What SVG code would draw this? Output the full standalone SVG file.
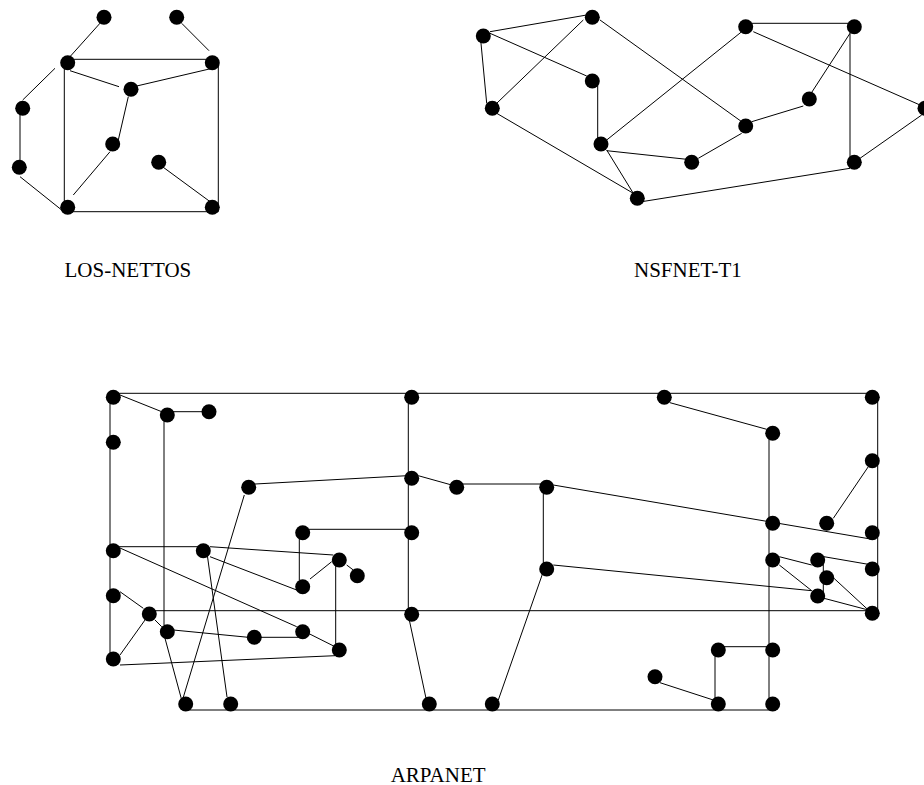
<svg xmlns="http://www.w3.org/2000/svg" width="924" height="785" viewBox="0 0 924 785">
<style>
.e{stroke:#000;stroke-width:1;fill:none}
.n{fill:#000}
.t{font-family:"Liberation Serif","Times New Roman",serif;font-size:21px;fill:#000}
</style>
<rect width="924" height="785" fill="#fff"/>
<g id="connectors">
<!-- LOS-NETTOS -->
<line class="e" x1="102" y1="21" x2="67" y2="60"/>
<line class="e" x1="181.7" y1="23.3" x2="209" y2="50.7"/>
<line class="e" x1="67.7" y1="59.3" x2="212.3" y2="59.3"/>
<line class="e" x1="70" y1="70.7" x2="119" y2="86.7"/>
<line class="e" x1="136.7" y1="86" x2="212.3" y2="68.3"/>
<line class="e" x1="64.3" y1="62.7" x2="64.3" y2="207"/>
<line class="e" x1="218.3" y1="62.7" x2="218.3" y2="211.7"/>
<line class="e" x1="64.3" y1="211.7" x2="218.3" y2="211.7"/>
<line class="e" x1="20" y1="108" x2="20" y2="167"/>
<line class="e" x1="22.7" y1="100" x2="55" y2="68.3"/>
<line class="e" x1="20" y1="176.7" x2="61.7" y2="210"/>
<line class="e" x1="128.3" y1="96.7" x2="118.3" y2="140"/>
<line class="e" x1="110" y1="151.7" x2="73.3" y2="195"/>
<line class="e" x1="163.3" y1="167.3" x2="212.3" y2="203.3"/>
<!-- NSFNET-T1 -->
<line class="e" x1="490" y1="31.7" x2="586.7" y2="15"/>
<line class="e" x1="490" y1="33.3" x2="586.7" y2="76"/>
<line class="e" x1="480.7" y1="40" x2="486.7" y2="103.3"/>
<line class="e" x1="496.7" y1="103.3" x2="583.3" y2="20"/>
<line class="e" x1="600" y1="20" x2="741.7" y2="121.7"/>
<line class="e" x1="496.7" y1="113.3" x2="633.3" y2="193.3"/>
<line class="e" x1="597.7" y1="81" x2="597.7" y2="144"/>
<line class="e" x1="606.7" y1="140" x2="741.7" y2="31.7"/>
<line class="e" x1="745.7" y1="23.3" x2="854.3" y2="23.3"/>
<line class="e" x1="753.3" y1="31.7" x2="920" y2="105"/>
<line class="e" x1="850" y1="33.3" x2="810" y2="95"/>
<line class="e" x1="850" y1="26.7" x2="850" y2="162.3"/>
<line class="e" x1="921.7" y1="115" x2="860" y2="158.3"/>
<line class="e" x1="751.7" y1="121.7" x2="803.3" y2="106"/>
<line class="e" x1="606.7" y1="150.7" x2="686.7" y2="159.3"/>
<line class="e" x1="698.3" y1="158.3" x2="741.7" y2="133.3"/>
<line class="e" x1="606.7" y1="150" x2="633.3" y2="193.3"/>
<line class="e" x1="641.7" y1="201.7" x2="850" y2="168.3"/>
<!-- ARPANET -->
<line class="e" x1="113" y1="393.3" x2="877.7" y2="393.3"/>
<line class="e" x1="877.7" y1="393.3" x2="877.7" y2="613"/>
<line class="e" x1="110" y1="397" x2="110" y2="659"/>
<line class="e" x1="120" y1="395" x2="161.7" y2="411.7"/>
<line class="e" x1="167" y1="411.7" x2="209" y2="411.7"/>
<line class="e" x1="164" y1="415" x2="164" y2="625"/>
<line class="e" x1="255" y1="484" x2="407" y2="475.7"/>
<line class="e" x1="244.3" y1="495" x2="183" y2="698.3"/>
<line class="e" x1="302.7" y1="529.3" x2="411.7" y2="529.3"/>
<line class="e" x1="299.3" y1="532.7" x2="299.3" y2="580"/>
<line class="e" x1="310" y1="579" x2="331.7" y2="561.7"/>
<line class="e" x1="346.7" y1="565" x2="353.3" y2="570"/>
<line class="e" x1="335.7" y1="560" x2="335.7" y2="645"/>
<line class="e" x1="113" y1="546.7" x2="203" y2="546.7"/>
<line class="e" x1="210" y1="546.7" x2="333.3" y2="555"/>
<line class="e" x1="120" y1="548" x2="296.7" y2="626.7"/>
<line class="e" x1="210" y1="556.7" x2="296.7" y2="590"/>
<line class="e" x1="207" y1="553" x2="227" y2="697"/>
<line class="e" x1="120" y1="591.7" x2="143.3" y2="608.3"/>
<line class="e" x1="149" y1="610.7" x2="877.7" y2="610.7"/>
<line class="e" x1="145" y1="620" x2="120" y2="655"/>
<line class="e" x1="155" y1="620" x2="161.7" y2="626.7"/>
<line class="e" x1="173.3" y1="630" x2="248.3" y2="637.3"/>
<line class="e" x1="254" y1="637.3" x2="302.7" y2="637.3"/>
<line class="e" x1="308.3" y1="633.3" x2="335" y2="646.7"/>
<line class="e" x1="120" y1="665" x2="335" y2="655.7"/>
<line class="e" x1="165" y1="638.3" x2="181.7" y2="700"/>
<line class="e" x1="185.7" y1="710" x2="772.7" y2="710"/>
<line class="e" x1="408.3" y1="397" x2="408.3" y2="614"/>
<line class="e" x1="418.3" y1="475.7" x2="451.7" y2="485"/>
<line class="e" x1="456.7" y1="484" x2="546.7" y2="484"/>
<line class="e" x1="543.3" y1="487" x2="543.3" y2="569"/>
<line class="e" x1="553.3" y1="485" x2="872.3" y2="539.3"/>
<line class="e" x1="553.3" y1="565" x2="811.7" y2="590.7"/>
<line class="e" x1="542.7" y1="573.3" x2="498.3" y2="700"/>
<line class="e" x1="409.3" y1="620" x2="426" y2="698.3"/>
<line class="e" x1="670" y1="402.7" x2="766.7" y2="429.3"/>
<line class="e" x1="769" y1="433" x2="769" y2="704"/>
<line class="e" x1="868.3" y1="466.7" x2="833.3" y2="518.3"/>
<line class="e" x1="779.3" y1="556.7" x2="811.7" y2="565"/>
<line class="e" x1="824" y1="556.7" x2="872.3" y2="565"/>
<line class="e" x1="823.3" y1="560" x2="823.3" y2="596"/>
<line class="e" x1="779.3" y1="565" x2="811.7" y2="590.7"/>
<line class="e" x1="833.3" y1="577.7" x2="868.3" y2="610"/>
<line class="e" x1="824" y1="598.3" x2="868.3" y2="610"/>
<line class="e" x1="718.3" y1="646.7" x2="772.7" y2="646.7"/>
<line class="e" x1="715" y1="650" x2="715" y2="704"/>
<line class="e" x1="660" y1="682.7" x2="713.3" y2="700"/>
</g>
<g id="los-nettos">
<circle class="n" cx="104" cy="17.3" r="7.5"/>
<circle class="n" cx="176.7" cy="17.3" r="7.5"/>
<circle class="n" cx="67.7" cy="62.7" r="7.5"/>
<circle class="n" cx="212.3" cy="62.7" r="7.5"/>
<circle class="n" cx="131" cy="89.3" r="7.5"/>
<circle class="n" cx="22.7" cy="108.3" r="7.5"/>
<circle class="n" cx="112.7" cy="144" r="7.5"/>
<circle class="n" cx="158.7" cy="162.3" r="7.5"/>
<circle class="n" cx="19.3" cy="167.3" r="7.5"/>
<circle class="n" cx="67.7" cy="207.3" r="7.5"/>
<circle class="n" cx="212.3" cy="207.3" r="7.5"/>
<text class="t" x="64.5" y="277">LOS-NETTOS</text>
</g>
<g id="nsfnet-t1">
<circle class="n" cx="483.3" cy="36" r="7.5"/>
<circle class="n" cx="592.3" cy="17.3" r="7.5"/>
<circle class="n" cx="745.7" cy="26.7" r="7.5"/>
<circle class="n" cx="854.3" cy="26.7" r="7.5"/>
<circle class="n" cx="592.3" cy="81" r="7.5"/>
<circle class="n" cx="492.3" cy="108.3" r="7.5"/>
<circle class="n" cx="809.3" cy="99" r="7.5"/>
<circle class="n" cx="925" cy="108.3" r="7.5"/>
<circle class="n" cx="745.7" cy="126" r="7.5"/>
<circle class="n" cx="601" cy="144" r="7.5"/>
<circle class="n" cx="691.7" cy="162.3" r="7.5"/>
<circle class="n" cx="854.3" cy="162.3" r="7.5"/>
<circle class="n" cx="637.3" cy="198.3" r="7.5"/>
<text class="t" x="634" y="277">NSFNET-T1</text>
</g>
<g id="arpanet">
<circle class="n" cx="113.3" cy="397.3" r="7.5"/>
<circle class="n" cx="167.3" cy="415" r="7.5"/>
<circle class="n" cx="209" cy="411.7" r="7.5"/>
<circle class="n" cx="113.3" cy="442.3" r="7.5"/>
<circle class="n" cx="248.7" cy="487.3" r="7.5"/>
<circle class="n" cx="302.7" cy="532.7" r="7.5"/>
<circle class="n" cx="113.3" cy="550.7" r="7.5"/>
<circle class="n" cx="203.3" cy="550.7" r="7.5"/>
<circle class="n" cx="339.3" cy="560" r="7.5"/>
<circle class="n" cx="357.3" cy="575.7" r="7.5"/>
<circle class="n" cx="302.7" cy="586.7" r="7.5"/>
<circle class="n" cx="113.3" cy="595.7" r="7.5"/>
<circle class="n" cx="149.3" cy="614" r="7.5"/>
<circle class="n" cx="167.3" cy="631.7" r="7.5"/>
<circle class="n" cx="254.3" cy="637.3" r="7.5"/>
<circle class="n" cx="302.7" cy="631.7" r="7.5"/>
<circle class="n" cx="339.3" cy="650" r="7.5"/>
<circle class="n" cx="113.3" cy="659" r="7.5"/>
<circle class="n" cx="185.7" cy="704" r="7.5"/>
<circle class="n" cx="230.7" cy="704" r="7.5"/>
<circle class="n" cx="411.7" cy="397.3" r="7.5"/>
<circle class="n" cx="411.7" cy="478.3" r="7.5"/>
<circle class="n" cx="456.7" cy="487.3" r="7.5"/>
<circle class="n" cx="546.7" cy="487.3" r="7.5"/>
<circle class="n" cx="411.7" cy="532.7" r="7.5"/>
<circle class="n" cx="546.7" cy="569" r="7.5"/>
<circle class="n" cx="411.7" cy="614.3" r="7.5"/>
<circle class="n" cx="429.3" cy="704" r="7.5"/>
<circle class="n" cx="492.3" cy="704" r="7.5"/>
<circle class="n" cx="664.3" cy="397.3" r="7.5"/>
<circle class="n" cx="872.3" cy="397.3" r="7.5"/>
<circle class="n" cx="772.7" cy="433.3" r="7.5"/>
<circle class="n" cx="872.3" cy="460.7" r="7.5"/>
<circle class="n" cx="772.7" cy="523.3" r="7.5"/>
<circle class="n" cx="826.7" cy="523.3" r="7.5"/>
<circle class="n" cx="872.3" cy="532.7" r="7.5"/>
<circle class="n" cx="772.7" cy="560" r="7.5"/>
<circle class="n" cx="817.7" cy="560" r="7.5"/>
<circle class="n" cx="872.3" cy="569" r="7.5"/>
<circle class="n" cx="826.7" cy="577.7" r="7.5"/>
<circle class="n" cx="817.7" cy="596" r="7.5"/>
<circle class="n" cx="872.3" cy="613.3" r="7.5"/>
<circle class="n" cx="718.3" cy="650" r="7.5"/>
<circle class="n" cx="772.7" cy="650" r="7.5"/>
<circle class="n" cx="655" cy="676.7" r="7.5"/>
<circle class="n" cx="718.3" cy="704" r="7.5"/>
<circle class="n" cx="772.7" cy="704" r="7.5"/>
<text class="t" x="390.7" y="781.5">ARPANET</text>
</g>
</svg>
